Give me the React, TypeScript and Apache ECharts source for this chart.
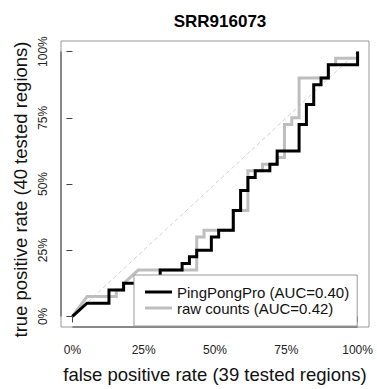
import React, { useEffect, useRef } from "react";
import * as echarts from "echarts";

const TITLE = "SRR916073";
const X_NAME = "false positive rate (39 tested regions)";
const Y_NAME_PARTS = ["true positive rate (40", "tested regions)"];
const N_NEG = 39;
const N_POS = 40;
const xTicks = [0, 0.25, 0.5, 0.75, 1];
const yTicks = [0, 0.25, 0.5, 0.75, 1];
const seriesNames = ["PingPongPro (AUC=0.40)", "raw counts (AUC=0.42)"];

// PingPongPro ROC step points (counts of false / true positives)
const pingFpr = [0, 2, 5, 5, 7, 7, 9, 9, 12, 12, 15, 15, 16, 16, 17, 17, 19, 19, 20, 20, 22, 22, 23, 23, 24, 24, 25, 25, 27, 27, 28, 28, 31, 31, 32, 32, 33, 33, 34, 34, 35, 35, 39, 39];
const pingTpr = [0, 2, 2, 4, 4, 5, 5, 6, 6, 7, 7, 8, 8, 9, 9, 10, 10, 12, 12, 13, 13, 16, 16, 19, 19, 21, 21, 22, 22, 23, 23, 25, 25, 29, 29, 32, 32, 35, 35, 36, 36, 38, 38, 40];

// raw counts ROC step points
const rawFpr = [0, 2, 6, 6, 7, 7, 9, 17, 17, 18, 18, 22, 22, 24, 24, 26, 26, 28, 28, 29, 29, 30, 30, 31, 31, 35, 35, 36, 36, 39, 39];
const rawTpr = [0, 3, 3, 4, 4, 5, 7, 7, 12, 12, 13, 13, 16, 16, 22, 22, 23, 23, 24, 24, 29, 29, 30, 30, 36, 36, 38, 38, 39, 39, 40];

const diagX = [0, 1];
const diagY = [0, 1];

export default function App() {
  const ref = useRef<HTMLDivElement>(null);
  useEffect(() => {
    const chart = echarts.init(ref.current!, null, { renderer: "svg" });
    const toPts = (f: number[], t: number[]) => f.map((v, i) => [v / N_NEG, t[i] / N_POS]);
    const font = "'Liberation Sans', Arial, Helvetica, sans-serif";
    const pad = 0.04;
    const yNameStyle = { fontFamily: font, fontSize: 18.5, fill: "#111", textVerticalAlign: "middle" };
    chart.setOption({
      animation: false,
      backgroundColor: "#fff",
      textStyle: { fontFamily: font },
      title: {
        text: TITLE,
        left: 215,
        top: 8,
        textAlign: "center",
        textStyle: { fontFamily: font, fontSize: 17, fontWeight: "bold", color: "#000" },
      },
      legend: {
        orient: "vertical",
        left: 134,
        top: 275,
        z: 20,
        data: seriesNames,
        icon: "rect",
        itemWidth: 27,
        itemHeight: 3,
        itemGap: 0,
        padding: [9, 8, 10, 11],
        backgroundColor: "#fff",
        borderColor: "#999",
        borderWidth: 1,
        borderRadius: 0,
        textStyle: { fontFamily: font, fontSize: 15, color: "#111", lineHeight: 16 },
      },
      graphic: [
        {
          type: "group",
          x: 20,
          y: 189.5,
          rotation: Math.PI / 2,
          silent: true,
          children: [
            { type: "text", x: -148, y: 0, style: { ...yNameStyle, text: Y_NAME_PARTS[0], textAlign: "left" } },
            { type: "text", x: 148, y: 0, style: { ...yNameStyle, text: Y_NAME_PARTS[1], textAlign: "right" } },
          ],
        },
      ],
      grid: {
        left: 61,
        right: 8,
        top: 41,
        bottom: 51,
        show: true,
        borderColor: "#999",
        borderWidth: 1,
        backgroundColor: "transparent",
      },
      xAxis: {
        type: "value",
        min: -pad,
        max: 1 + pad,
        name: X_NAME,
        nameLocation: "middle",
        nameGap: 38,
        nameTextStyle: { fontFamily: font, fontSize: 18.5, color: "#111" },
        axisLine: { show: false },
        splitLine: { show: false },
        axisTick: { show: true, inside: false, length: 6, customValues: xTicks, lineStyle: { color: "#444" } },
        axisLabel: {
          customValues: xTicks,
          margin: 17,
          fontSize: 12,
          fontFamily: font,
          color: "#222",
          formatter: (v: number) => Math.round(v * 100) + "%",
        },
      },
      yAxis: {
        type: "value",
        min: -pad,
        max: 1 + pad,
        axisLine: { show: false },
        splitLine: { show: false },
        axisTick: { show: true, inside: false, length: 6, customValues: yTicks, lineStyle: { color: "#444" } },
        axisLabel: {
          customValues: yTicks,
          rotate: 90,
          margin: 12,
          fontSize: 12,
          fontFamily: font,
          color: "#222",
          formatter: (v: number) => Math.round(v * 100) + "%",
        },
      },
      series: [
        { name: "axisX", type: "line", data: [[0, -pad], [1, -pad]], symbol: "none", clip: false, silent: true, lineStyle: { color: "#444", width: 1 }, z: 1 },
        { name: "axisY", type: "line", data: [[-pad, 0], [-pad, 1]], symbol: "none", clip: false, silent: true, lineStyle: { color: "#444", width: 1 }, z: 1 },
        { name: "diag", type: "line", data: diagX.map((v, i) => [v, diagY[i]]), symbol: "none", silent: true, lineStyle: { color: "#d0d0d0", width: 1, type: [4, 3] }, z: 1 },
        { name: seriesNames[1], type: "line", data: toPts(rawFpr, rawTpr), symbol: "none", lineStyle: { color: "#bebebe", width: 3, join: "miter" }, itemStyle: { color: "#bebebe" }, z: 2 },
        { name: seriesNames[0], type: "line", data: toPts(pingFpr, pingTpr), symbol: "none", lineStyle: { color: "#000", width: 3, join: "miter" }, itemStyle: { color: "#000" }, z: 3 },
      ],
    });
    return () => chart.dispose();
  }, []);
  return <div ref={ref} style={{ position: "fixed", left: 0, top: 0, width: 377, height: 389 }} />;
}
